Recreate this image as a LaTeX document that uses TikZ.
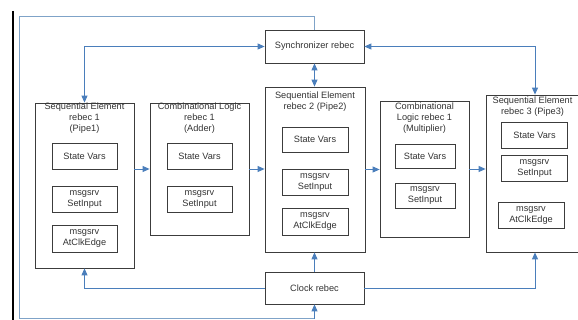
\documentclass[tikz,border=0pt]{standalone}
\usepackage{fontspec}
\setmainfont{Liberation Sans}
\usetikzlibrary{arrows.meta}
\definecolor{conn}{HTML}{4A7EBB}
\definecolor{loopc}{HTML}{7FA3C8}
\definecolor{boxc}{HTML}{3C3C3C}
\definecolor{txt}{HTML}{333333}
\tikzset{
  box/.style={draw=boxc, line width=0.8pt, inner sep=0pt},
  title/.style={align=center, text=txt, inner sep=0pt, font=\fontsize{9.2}{11}\selectfont},
  inbox/.style={draw=boxc, line width=0.8pt, inner sep=0pt, align=center, text=txt, font=\fontsize{9.2}{11}\selectfont},
  tip/.style={-{Triangle[length=7pt,width=6pt]}},
  link/.style={draw=conn, line width=0.9pt},
  loopline/.style={draw=loopc, line width=0.9pt},
}
\begin{document}
\begin{tikzpicture}[x=1pt,y=-1pt]
\useasboundingbox (0,0) rectangle (578,320);
\clip (0,0) rectangle (578,320);
% black bar
\coordinate (b1) at (13,11);
\coordinate (b2) at (13,321);
\draw[line width=1.6pt, black] (b1) -- (b2);

% top/bottom boxes
\node[inbox, minimum width=99pt, minimum height=33pt] (sync) at (314.5,46.5) {Synchronizer rebec};
\node[inbox, minimum width=99pt, minimum height=32pt] (clock) at (314.5,288) {Clock rebec};

% Pipe1
\node[box, minimum width=99pt, minimum height=165pt] (p1) at (84.5,185.5) {};
\node[title] (p1t) at (84.5,118) {Sequential Element\\rebec 1\\(Pipe1)};
\node[inbox, minimum width=65pt, minimum height=26pt] (p1sv) at (84.5,156) {State Vars};
\node[inbox, minimum width=65pt, minimum height=26pt] (p1si) at (84.5,199) {msgsrv\\SetInput};
\node[inbox, minimum width=65pt, minimum height=27pt] (p1ae) at (84.5,238.5) {msgsrv\\AtClkEdge};

% Adder
\node[box, minimum width=99pt, minimum height=132pt] (ad) at (199.5,169) {};
\node[title] (adt) at (199.5,118) {Combinational Logic\\rebec 1\\(Adder)};
\node[inbox, minimum width=65pt, minimum height=26pt] (adsv) at (199.5,156) {State Vars};
\node[inbox, minimum width=65pt, minimum height=26pt] (adsi) at (199.5,199) {msgsrv\\SetInput};

% Pipe2
\node[box, minimum width=100pt, minimum height=165pt] (p2) at (315,169.5) {};
\node[title] (p2t) at (315,101.5) {Sequential Element\\rebec 2 (Pipe2)};
\node[inbox, minimum width=66pt, minimum height=25pt] (p2sv) at (315,139.5) {State Vars};
\node[inbox, minimum width=66pt, minimum height=26pt] (p2si) at (315,182) {msgsrv\\SetInput};
\node[inbox, minimum width=66pt, minimum height=27pt] (p2ae) at (315,221.5) {msgsrv\\AtClkEdge};

% Multiplier
\node[box, minimum width=89pt, minimum height=136pt] (mu) at (424.5,169) {};
\node[title] (mut) at (424.5,118) {Combinational\\Logic rebec 1\\(Multiplier)};
\node[inbox, minimum width=60pt, minimum height=24pt] (musv) at (425,156) {State Vars};
\node[inbox, minimum width=60pt, minimum height=25pt] (musi) at (425,195.5) {msgsrv\\SetInput};

% Pipe3
\node[box, minimum width=98pt, minimum height=157pt] (p3) at (535,173.5) {};
\node[title] (p3t) at (532.5,106.5) {Sequential Element\\rebec 3 (Pipe3)};
\node[inbox, minimum width=66pt, minimum height=26pt] (p3sv) at (534.5,135) {State Vars};
\node[inbox, minimum width=66pt, minimum height=26pt] (p3si) at (534.5,168) {msgsrv\\SetInput};
\node[inbox, minimum width=66pt, minimum height=26pt] (p3ae) at (531,215) {msgsrv\\AtClkEdge};

% data flow arrows
\draw[link, tip] (p1.east |- ad.west) -- (ad.west);
\draw[link, tip] (ad.east) -- (p2.west |- ad.east);
\draw[link, tip] (p2.east) -- (mu.west |- p2.east);
\draw[link, tip] (mu.east) -- (p3.west |- mu.east);

% synchronizer links
\draw[link, {Triangle[length=7pt,width=6pt]}-{Triangle[length=7pt,width=6pt]}] (sync.west) -| (p1.north);
\draw[link, {Triangle[length=7pt,width=6pt]}-{Triangle[length=7pt,width=6pt]}] (sync.east) -| (p3.north);
\draw[link, {Triangle[length=7pt,width=6pt]}-{Triangle[length=7pt,width=6pt]}] (sync.south) -- (sync.south |- p2.north);

% clock links
\draw[link, tip] (clock.west) -| (p1.south);
\draw[link, tip] (clock.north) -- (clock.north |- p2.south);
\draw[link, tip] (clock.east) -| (p3.south);

% outer feedback loop
\coordinate (tl) at (19,16);
\coordinate (bl) at (19,318.5);
\draw[loopline] (sync.north) |- (tl) -- (bl) -- (clock.south |- bl);
\draw[link, tip] (clock.south |- bl) -- (clock.south);
\end{tikzpicture}
\end{document}
